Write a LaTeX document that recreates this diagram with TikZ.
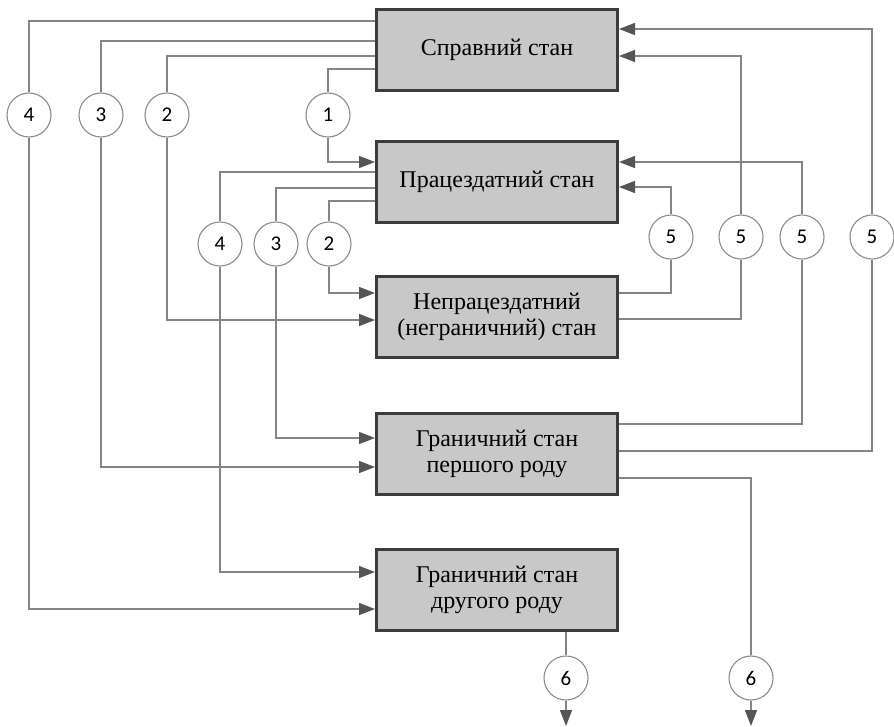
\documentclass[tikz,border=0pt]{standalone}
\usepackage{fontspec}
\setmainfont{Liberation Serif}
\newfontfamily\numfont{Carlito}
\usetikzlibrary{arrows.meta}
\definecolor{boxfill}{HTML}{C8C8C8}
\definecolor{boxline}{HTML}{3C3C3C}
\definecolor{wire}{HTML}{858585}
\definecolor{tipcol}{HTML}{555555}
\definecolor{ringcol}{HTML}{8C8C8C}
\tikzset{
  statebox/.style={draw=boxline, line width=3pt, fill=boxfill,
    minimum width=241pt, minimum height=81pt, inner sep=0pt,
    align=center, font=\rmfamily\fontsize{24}{26}\selectfont},
  num/.style={circle, draw=ringcol, line width=1.1pt, fill=white,
    minimum size=44pt, inner sep=0pt, font=\numfont\fontsize{21}{21}\selectfont},
  wireln/.style={draw=wire, line width=1.4pt},
  arr/.style={wireln, -{Triangle[length=16pt,width=12pt,color=tipcol]}},
}
\begin{document}
\begin{tikzpicture}[x=1pt, y=-1pt]
\useasboundingbox (0,0) rectangle (894,726);

% states
\node[statebox] (b1) at (497,49.5) {Справний стан};
\node[statebox] (b2) at (497,182) {Працездатний стан};
\node[statebox] (b3) at (497,317) {Непрацездатний\\(неграничний) стан};
\node[statebox] (b4) at (497,453.5) {Граничний стан\\першого роду};
\node[statebox] (b5) at (497,589.5) {Граничний стан\\другого роду};

% transition markers, upper row
\node[num] (t4a) at (29,115) {4};
\node[num] (t3a) at (101,115) {3};
\node[num] (t2a) at (167,115) {2};
\node[num] (t1)  at (328,115) {1};

% transition markers, middle row
\node[num] (t4b) at (220,244) {4};
\node[num] (t3b) at (276,244) {3};
\node[num] (t2b) at (329,244) {2};

% restoration markers
\node[num] (r1) at (671,237) {5};
\node[num] (r2) at (741,237) {5};
\node[num] (r3) at (802,237) {5};
\node[num] (r4) at (872,237) {5};

% exit markers
\node[num] (e1) at (566,678) {6};
\node[num] (e2) at (751,678) {6};
\coordinate (x1) at (566,726);
\coordinate (x2) at (751,726);

% from the serviceable state
\draw[wireln] (b1.west |- 0,21) -| (t4a);
\draw[arr] (t4a) |- (b5.west |- 0,609);
\draw[wireln] (b1.west |- 0,41) -| (t3a);
\draw[arr] (t3a) |- (b4.west |- 0,467);
\draw[wireln] (b1.west |- 0,56) -| (t2a);
\draw[arr] (t2a) |- (b3.west |- 0,320);
\draw[wireln] (b1.west |- 0,69) -| (t1);
\draw[arr] (t1) |- (b2.west |- 0,162);

% from the operable state
\draw[wireln] (b2.west |- 0,172) -| (t4b);
\draw[arr] (t4b) |- (b5.west |- 0,572);
\draw[wireln] (b2.west |- 0,188) -| (t3b);
\draw[arr] (t3b) |- (b4.west |- 0,438);
\draw[wireln] (b2.west |- 0,201) -| (t2b);
\draw[arr] (t2b) |- (b3.west |- 0,293);

% restoration paths
\draw[wireln] (b3.east |- 0,293) -| (r1);
\draw[arr] (r1) |- (b2.east |- 0,187);
\draw[wireln] (b3.east |- 0,319) -| (r2);
\draw[arr] (r2) |- (b1.east |- 0,56);
\draw[wireln] (b4.east |- 0,424) -| (r3);
\draw[arr] (r3) |- (b2.east |- 0,162);
\draw[wireln] (b4.east |- 0,451) -| (r4);
\draw[arr] (r4) |- (b1.east |- 0,29);

% exits
\draw[wireln] (b4.east |- 0,478) -| (e2);
\draw[arr] (e2) -- (x2);
\draw[wireln] (b5.south -| e1) -- (e1);
\draw[arr] (e1) -- (x1);
\end{tikzpicture}
\end{document}
